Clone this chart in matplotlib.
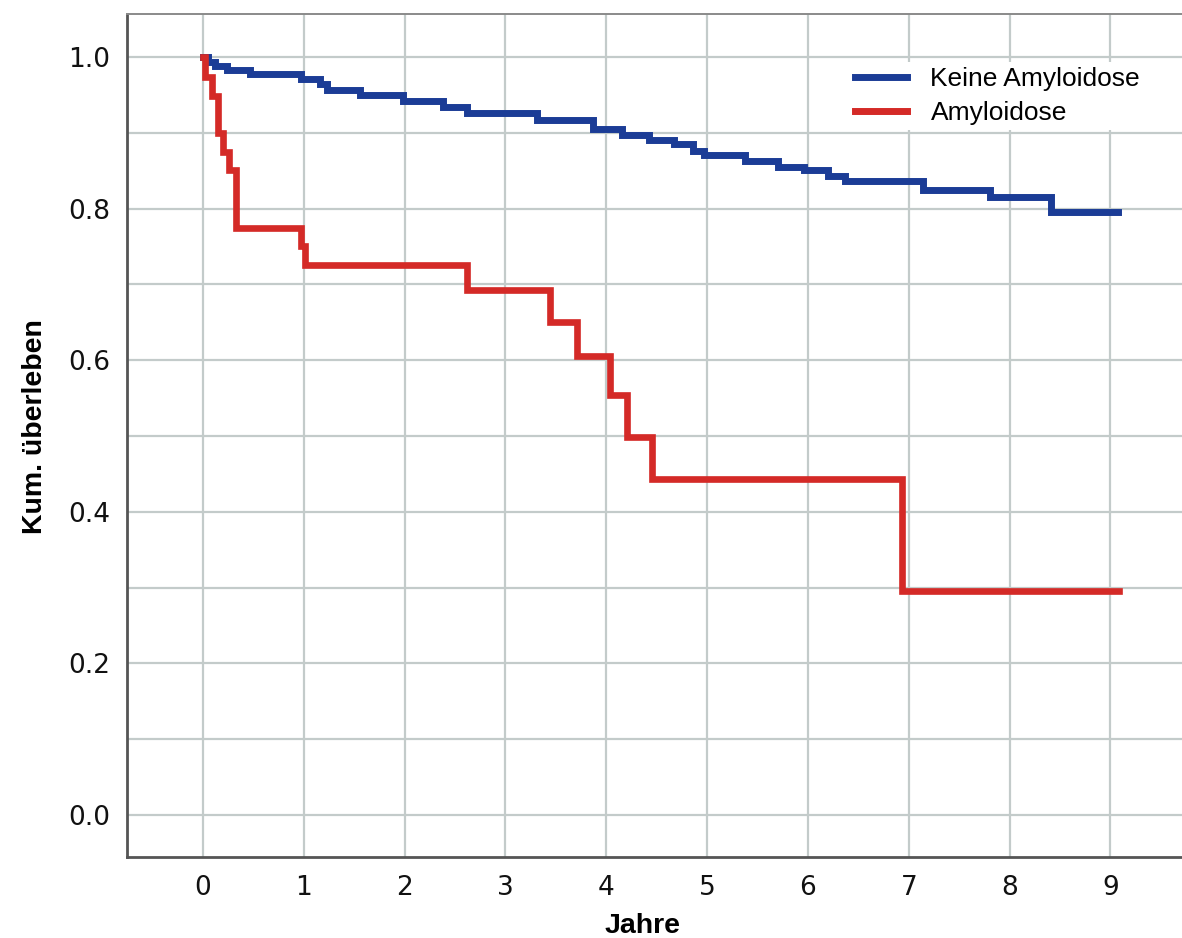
"""Kaplan-Meier Kurve: Kum. Überleben mit / ohne Amyloidose."""

import matplotlib

matplotlib.use("Agg")
import matplotlib.pyplot as plt
from matplotlib.ticker import MultipleLocator

# Keine Amyloidose (Zeit in Jahren, kum. Überleben)
blue_t = [0, 0.05, 0.12, 0.24, 0.47, 0.97, 1.16, 1.23, 1.56, 1.98, 2.38, 2.62,
          3.31, 3.87, 4.16, 4.42, 4.67, 4.86, 4.97, 5.38, 5.70, 5.96, 6.20,
          6.37, 7.14, 7.81, 8.41, 9.08]
blue_s = [1.0, 0.993, 0.988, 0.983, 0.977, 0.971, 0.964, 0.957, 0.950, 0.942,
          0.934, 0.926, 0.917, 0.905, 0.897, 0.890, 0.885, 0.876, 0.871, 0.863,
          0.855, 0.851, 0.843, 0.837, 0.825, 0.815, 0.796, 0.796]

# Amyloidose
red_t = [0, 0.02, 0.09, 0.15, 0.20, 0.26, 0.33, 0.97, 1.01, 2.62, 3.44, 3.71,
         4.04, 4.21, 4.45, 6.93, 9.09]
red_s = [1.0, 0.974, 0.949, 0.900, 0.875, 0.851, 0.775, 0.750, 0.726, 0.693,
         0.651, 0.605, 0.554, 0.499, 0.443, 0.296, 0.296]

labels = ["Keine Amyloidose", "Amyloidose"]
x_ticks = list(range(10))
y_ticks = [0.0, 0.2, 0.4, 0.6, 0.8, 1.0]

BLUE = "#1b3c96"
RED = "#d42a27"
GRID = "#c3cbca"

fig = plt.figure(figsize=(11.82, 9.38), dpi=100)
ax = fig.add_axes([127 / 1182, 1 - 857 / 938, 1055 / 1182, 843 / 938])

ax.step(blue_t, blue_s, where="post", color=BLUE, lw=5.0, label=labels[0],
        zorder=3, solid_joinstyle="miter")
ax.step(red_t, red_s, where="post", color=RED, lw=4.8, label=labels[1],
        zorder=3, solid_joinstyle="miter")

ax.set_xlim(-0.754, 9.71)
ax.set_ylim(-0.0554, 1.0567)
ax.set_xticks(x_ticks)
ax.set_yticks(y_ticks)
ax.set_yticklabels([f"{v:.1f}" for v in y_ticks])
ax.yaxis.set_minor_locator(MultipleLocator(0.1))
ax.grid(True, which="both", color=GRID, lw=1.6, zorder=0)
ax.tick_params(which="both", length=0)
ax.tick_params(axis="x", pad=13, labelsize=19, labelcolor="#111111")
ax.tick_params(axis="y", pad=12, labelsize=19, labelcolor="#111111")
for lab in ax.get_xticklabels() + ax.get_yticklabels():
    lab.set_family("DejaVu Sans")

ax.spines["right"].set_visible(False)
ax.spines["left"].set_color("#555555")
ax.spines["left"].set_linewidth(2.0)
ax.spines["bottom"].set_color("#555555")
ax.spines["bottom"].set_linewidth(2.0)
ax.spines["top"].set_color("#8a8a8a")
ax.spines["top"].set_linewidth(1.4)

ax.set_xlabel("Jahre", family="Liberation Sans", fontweight="bold", fontsize=20.5)
ax.set_ylabel("Kum. überleben", family="Liberation Sans", fontweight="bold",
              fontsize=20.5)
ax.xaxis.set_label_coords((643 - 127) / 1055, -(913 - 857) / 843)
ax.yaxis.set_label_coords(-(127 - 48) / 1055, (857 - 427) / 843)

leg = ax.legend(loc="upper left", bbox_to_anchor=((850 - 127) / 1055, (857 - 62) / 843),
                prop={"family": "Liberation Sans", "size": 19},
                frameon=True, fancybox=False, framealpha=1, edgecolor="none",
                facecolor="white", handlelength=1.95, handletextpad=0.9,
                labelspacing=0.36, borderpad=0.2, borderaxespad=0)
for h in leg.get_lines():
    h.set_linewidth(5)

fig.savefig("out.png", dpi=100)
